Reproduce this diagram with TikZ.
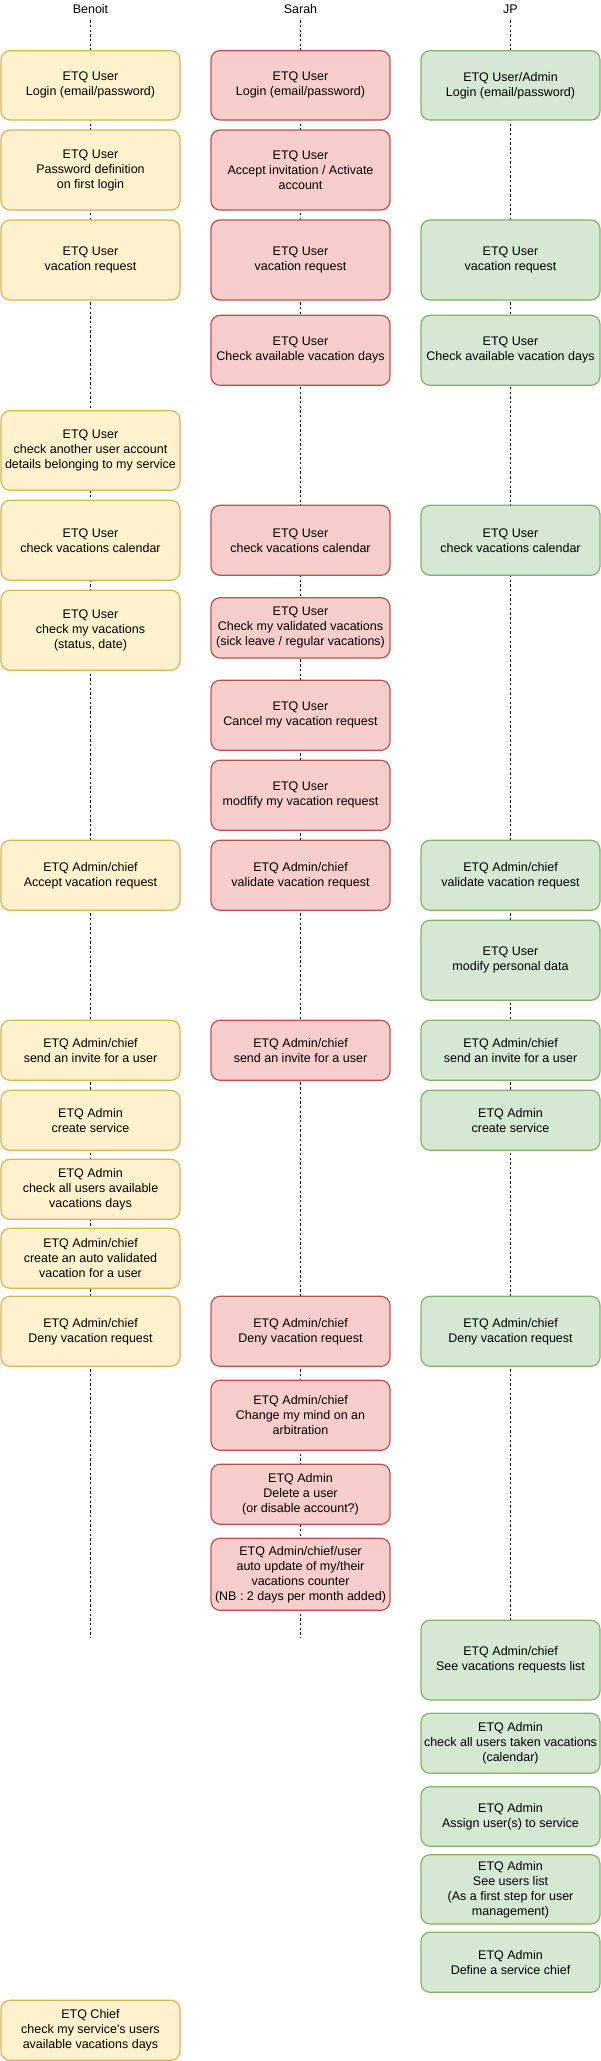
\documentclass[tikz,border=0pt]{standalone}
\usepackage{fontspec}
\setmainfont{Liberation Sans}
\usepackage{tikz}

\definecolor{benoitfill}{HTML}{FFF2CC}
\definecolor{benoitdraw}{HTML}{D6B656}
\definecolor{sarahfill}{HTML}{F8CECC}
\definecolor{sarahdraw}{HTML}{B85450}
\definecolor{jpfill}{HTML}{D5E8D4}
\definecolor{jpdraw}{HTML}{82B366}

\tikzset{
    usecase/.style={rounded corners=9pt, line width=1.2pt, minimum width=179pt, inner sep=2pt,
        align=center, font=\fontsize{12.5}{15}\selectfont},
    benoitbox/.style={usecase, draw=benoitdraw, fill=benoitfill},
    sarahbox/.style={usecase, draw=sarahdraw, fill=sarahfill},
    jpbox/.style={usecase, draw=jpdraw, fill=jpfill},
    header/.style={inner sep=0pt, minimum height=22pt, font=\fontsize{12.5}{15}\selectfont},
    lifeline/.style={line width=0.6pt, dash pattern=on 2.4pt off 2.3pt}
}

\begin{document}
\begin{tikzpicture}[x=1pt, y=-1pt]
            \useasboundingbox (0,0) rectangle (601,2061);
            \foreach \who/\x/\label/\yend in {b/90.5/Benoit/1638, s/300.5/Sarah/1638, j/510.5/JP/1620} {
                \node[header] (h\who) at (\x, 9) {\label};
                \coordinate (e\who) at (\x, \yend);
                \draw[lifeline] (h\who) -- (e\who);
            }
            \foreach \i/\t/\b/\txt in {
                1/50.7/120/{ETQ User\\Login (email/password)},
                2/130/210/{ETQ User\\Password definition\\on first login},
                3/220/300/{ETQ User\\vacation request},
                4/410.7/490.3/{ETQ User\\check another user account\\details belonging to my service},
                5/500.3/580.3/{ETQ User\\check vacations calendar},
                6/590.3/670.3/{ETQ User\\check my vacations\\(status, date)},
                7/840.3/910.3/{ETQ Admin/chief\\Accept vacation request},
                8/1020.3/1080.3/{ETQ Admin/chief\\send an invite for a user},
                9/1090.3/1150.3/{ETQ Admin\\create service},
                10/1159.3/1219.3/{ETQ Admin\\check all users available\\vacations days},
                11/1228.3/1288.3/{ETQ Admin/chief\\create an auto validated\\vacation for a user},
                12/1296.3/1366.3/{ETQ Admin/chief\\Deny vacation request},
                13/2000.3/2060.3/{ETQ Chief\\check my service\textquotesingle s users\\available vacations days}} {
                \node[benoitbox, minimum height={(\b-\t)*1pt}] (b\i) at (90.5, {(\t+\b)/2}) {\txt};
            }
            \foreach \i/\t/\b/\txt in {
                1/50.7/120/{ETQ User\\Login (email/password)},
                2/130/210/{ETQ User\\Accept invitation / Activate\\account},
                3/220/300/{ETQ User\\vacation request},
                4/315.3/385.3/{ETQ User\\Check available vacation days},
                5/505.3/575.3/{ETQ User\\check vacations calendar},
                6/597.7/658/{ETQ User\\Check my validated vacations\\(sick leave / regular vacations)},
                7/680.3/750.3/{ETQ User\\Cancel my vacation request},
                8/760.3/830.3/{ETQ User\\modfify my vacation request},
                9/840.3/910.3/{ETQ Admin/chief\\validate vacation request},
                10/1020.3/1080.3/{ETQ Admin/chief\\send an invite for a user},
                11/1296.3/1366.3/{ETQ Admin/chief\\Deny vacation request},
                12/1380.3/1450.3/{ETQ Admin/chief\\Change my mind on an\\arbitration},
                13/1464.3/1524.3/{ETQ Admin\\Delete a user\\(or disable account?)},
                14/1538.3/1610.3/{ETQ Admin/chief/user\\auto update of my/their\\vacations counter\\(NB : 2 days per month added)}} {
                \node[sarahbox, minimum height={(\b-\t)*1pt}] (s\i) at (300.5, {(\t+\b)/2}) {\txt};
            }
            \foreach \i/\t/\b/\txt in {
                1/50.7/120/{ETQ User/Admin\\Login (email/password)},
                2/220/300/{ETQ User\\vacation request},
                3/315.3/385.3/{ETQ User\\Check available vacation days},
                4/505.3/575.3/{ETQ User\\check vacations calendar},
                5/840.3/910.3/{ETQ Admin/chief\\validate vacation request},
                6/920.3/1000.3/{ETQ User\\modify personal data},
                7/1020.3/1080.3/{ETQ Admin/chief\\send an invite for a user},
                8/1090.3/1150.3/{ETQ Admin\\create service},
                9/1296.3/1366.3/{ETQ Admin/chief\\Deny vacation request},
                10/1620.3/1700/{ETQ Admin/chief\\See vacations requests list},
                11/1713.3/1773.3/{ETQ Admin\\check all users taken vacations\\(calendar)},
                12/1786.7/1846.3/{ETQ Admin\\Assign user(s) to service},
                13/1854.7/1924/{ETQ Admin\\See users list\\(As a first step for user\\management)},
                14/1932.3/1992.3/{ETQ Admin\\Define a service chief}} {
                \node[jpbox, minimum height={(\b-\t)*1pt}] (j\i) at (510.5, {(\t+\b)/2}) {\txt};
            }
\end{tikzpicture}
\end{document}
